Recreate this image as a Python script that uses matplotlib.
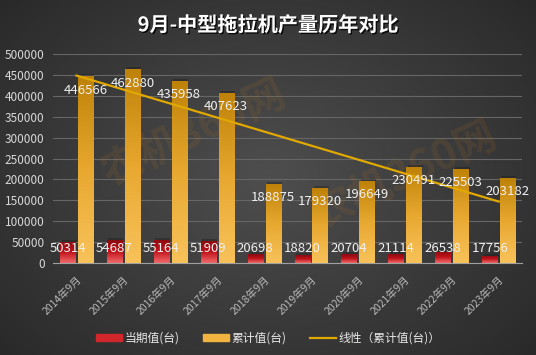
import numpy as np
import matplotlib
matplotlib.use("Agg")
import matplotlib.pyplot as plt
from matplotlib.patches import Rectangle
from matplotlib.lines import Line2D
import matplotlib.patheffects as pe

plt.rcParams['font.family'] = ['Noto Sans CJK SC', 'DejaVu Sans']

# data
months = ["2014年9月", "2015年9月", "2016年9月", "2017年9月", "2018年9月",
          "2019年9月", "2020年9月", "2021年9月", "2022年9月", "2023年9月"]
current = [50314, 54687, 55164, 51909, 20698, 18820, 20704, 21114, 26538, 17756]
cumulative = [446566, 462880, 435958, 407623, 188875, 179320, 196649, 230491, 225503, 203182]
yticks = [0, 50000, 100000, 150000, 200000, 250000, 300000, 350000, 400000, 450000, 500000]

fig = plt.figure(figsize=(5.36, 3.55), dpi=100)

# radial grey background
bg = fig.add_axes([0, 0, 1, 1])
yy, xx = np.mgrid[-1:1:200j, -1:1:300j]
r = np.sqrt(xx ** 2 + (yy * 0.9) ** 2)
bg.imshow(r, cmap=matplotlib.colors.LinearSegmentedColormap.from_list("g", ["#4e4e4e", "#282828"]),
          extent=[0, 1, 0, 1], aspect="auto", vmin=0, vmax=1.4)
bg.axis("off")

ax = fig.add_axes([0.099, 0.259, 0.875, 0.589])
ax.patch.set_alpha(0)
x = np.arange(len(months))
w = 0.32
off = 0.19

red_cmap = matplotlib.colors.LinearSegmentedColormap.from_list("r", ["#f06a6a", "#c0141c", "#8a0b10"])
gold_cmap = matplotlib.colors.LinearSegmentedColormap.from_list("o", ["#f8c25a", "#e8a830", "#bf8208"])

def grad_bars(xs, vals, cmap):
    bars = ax.bar(xs, vals, w, color="none", zorder=3)
    grad = np.linspace(0, 1, 100).reshape(-1, 1)
    for b in bars:
        x0, y0 = b.get_x(), b.get_y()
        bw, bh = b.get_width(), b.get_height()
        im = ax.imshow(grad, cmap=cmap, extent=[x0, x0 + bw, y0, y0 + bh],
                       origin="lower", aspect="auto", zorder=3)
        im.set_clip_path(b)
        # soft shadow on top
        ax.add_patch(Rectangle((x0 + 0.03, y0 + bh), bw, 5000, color="#111111", alpha=0.3, zorder=2, lw=0))
    return bars

grad_bars(x - off, current, red_cmap)
grad_bars(x + off, cumulative, gold_cmap)

# linear trendline of cumulative
k, b0 = np.polyfit(x, cumulative, 1)
ax.plot(x, k * x + b0, color="#e0a800", lw=1.6, zorder=4)

# faint watermark
for wx, wy in [(0.3, 0.62), (0.75, 0.42)]:
    ax.text(wx, wy, "农机360网", transform=ax.transAxes, rotation=25, ha="center", va="center",
            fontsize=30, fontweight="bold", color="#c87a20", alpha=0.12, zorder=1)

# labels
for i in range(len(x)):
    ax.text(x[i] - off, 36000, str(current[i]), ha="center", va="center",
            color="#f0f0f0", fontsize=9.5, zorder=5)
    ax.text(x[i] + off, cumulative[i] - 33000, str(cumulative[i]), ha="center", va="center",
            color="#f0f0f0", fontsize=9.5, zorder=5)

ax.set_xlim(-0.5, 9.5)
ax.set_ylim(0, 500000)
ax.set_yticks(yticks)
ax.set_yticklabels([str(v) for v in yticks], color="#d8d8d8", fontsize=8.5)
ax.set_xticks(x)
ax.set_xticklabels(months, rotation=45, ha="right", rotation_mode="anchor",
                   color="#b8b8b8", fontsize=7.5)
ax.tick_params(length=0, pad=6)
ax.tick_params(axis="x", pad=8)
ax.grid(axis="y", color="#666666", lw=0.8, zorder=0)
ax.set_axisbelow(True)
for s in ["top", "right", "left"]:
    ax.spines[s].set_visible(False)
ax.spines["bottom"].set_color("#a0a0a0")

fig.text(0.5, 0.93, "9月-中型拖拉机产量历年对比", ha="center", va="center",
         color="white", fontsize=14.5, fontweight="bold",
         path_effects=[pe.withSimplePatchShadow(offset=(1, -1), shadow_rgbFace="black", alpha=0.8)])

handles = [Rectangle((0, 0), 1, 1, color="#d0262c"),
           Rectangle((0, 0), 1, 1, color="#f2b440"),
           Line2D([0], [0], color="#e0a800", lw=1.6)]
fig.legend(handles, ["当期值(台)", "累计值(台)", "线性（累计值(台)）"],
           loc="center", bbox_to_anchor=(0.5, 0.048), ncol=3, frameon=False,
           fontsize=8.5, labelcolor="#e8e8e8", handlelength=2.2, handleheight=0.6,
           columnspacing=2.0, handletextpad=0.2)

fig.savefig("out.png", dpi=100)
